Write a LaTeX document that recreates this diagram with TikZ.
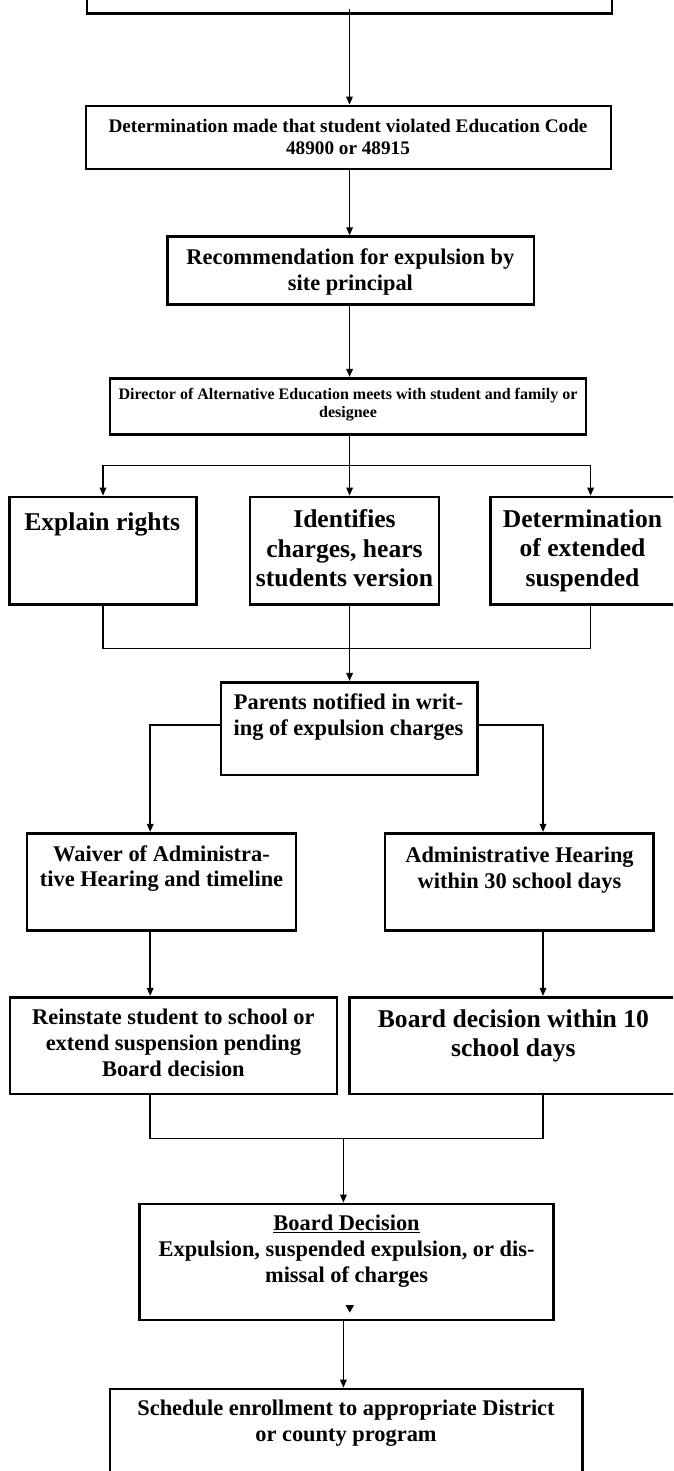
\documentclass[tikz,border=0pt]{standalone}
\usepackage{fontspec}
\setmainfont{Liberation Serif}
\usetikzlibrary{arrows.meta}
\newcommand{\fsS}{\fontsize{16}{18.4}\selectfont}
\newcommand{\fsM}{\fontsize{19.2}{22}\selectfont}
\newcommand{\fsL}{\fontsize{22.4}{25.8}\selectfont}
\newcommand{\fsX}{\fontsize{25.6}{29.4}\selectfont}
\begin{document}
\begin{tikzpicture}
[
x=1pt, y=-1pt,
flowbox/.style 2 args={draw,line width=2.7pt,inner sep=0pt,minimum width=#1,minimum height=#2},
txt/.style={anchor=north,inner sep=0pt,align=center,font=\bfseries#1,execute at begin node=\strut},
link/.style={line width=1.5pt},
flow/.style={link,-{Triangle[width=6.5pt,length=8pt]}},
]
\useasboundingbox (0,0) rectangle (673,1471);
\clip (0,0) rectangle (673,1471);

%Place the boxes
\node[flowbox={525pt}{63.3pt}] (top) at (349.5,-18.35) {};
\node[flowbox={525pt}{63pt}] (violate) at (348.5,137.5) {};
\node[flowbox={366.2pt}{67.6pt}] (recommend) at (350.9,270.5) {};
\node[flowbox={476pt}{56pt}] (director) at (348,406.3) {};
\node[flowbox={187.4pt}{107.5pt}] (explain) at (103,550.75) {};
\node[flowbox={189pt}{107.5pt}] (identify) at (344.5,550.75) {};
\node[flowbox={187.4pt}{107.5pt}] (extended) at (584.3,550.75) {};
\node[flowbox={256.3pt}{92.7pt}] (parents) at (349.15,728.65) {};
\node[flowbox={269pt}{97.4pt}] (waiver) at (161.5,882) {};
\node[flowbox={268.7pt}{97.4pt}] (admin) at (519.35,882) {};
\node[flowbox={327.1pt}{96.7pt}] (reinstate) at (173.45,1045.65) {};
\node[flowbox={327.2pt}{96.7pt}] (within) at (513.4,1045.65) {};
\node[flowbox={414.2pt}{116pt}] (decision) at (346.6,1262) {};
\node[flowbox={472.5pt}{111pt}] (schedule) at (346.15,1444.5) {};

%Place the texts
\node[txt=\fsM] (violate-t) at (348,118.6) {Determination made that student violated Education Code\\48900 or 48915};
\node[txt=\fsL] (recommend-t) at (350.4,248.6) {Recommendation for expulsion by\\site principal};
\node[txt=\fsS] (director-t) at (348,388.1) {Director of Alternative Education meets with student and family or\\designee};
\node[txt=\fsX] (explain-t) at (102.2,509.4) {Explain rights};
\node[txt=\fsX] (identify-t) at (344.5,509.4) {Identifies\\charges, hears\\students version};
\node[txt=\fsX] (extended-t) at (582.5,509.4) {Determination\\of extended\\suspended};
\node[txt=\fsL] (parents-t) at (348.5,693.6) {Parents notified in writ-\\ing of expulsion charges};
\node[txt=\fsL] (waiver-t) at (161.5,845.2) {Waiver of Administra-\\tive Hearing and timeline};
\node[txt=\fsL] (admin-t) at (519.5,846.9) {Administrative Hearing\\within 30 school days};
\node[txt=\fsL] (reinstate-t) at (173.4,1009.2) {Reinstate student to school or\\extend suspension pending\\Board decision};
\node[txt=\fsX] (within-t) at (513.4,1009.4) {Board decision within 10\\school days};
\node[txt=\fsL] (decision-t) at (346.6,1215.2) {\underline{Board Decision}\\Expulsion, suspended expulsion, or dis-\\missal of charges};
\node[txt=\fsL] (schedule-t) at (346,1400.2) {Schedule enrollment to appropriate District\\or county program};

%Connector columns and joins
\coordinate (spine) at (349.6,0);
\coordinate (rcol) at (590.6,0);
\coordinate (wcol) at (150.2,0);
\coordinate (acol) at (543,0);
\coordinate (fork) at (349.6,465.3);
\coordinate (join) at (349.6,648.3);
\coordinate (merge) at (343.4,1138.3);

%Draw the connections
\draw[flow] ([yshift=6pt]top.south) -- (top.south |- violate.north);
\draw[flow] (spine |- violate.south) -- (spine |- recommend.north);
\draw[flow] (spine |- recommend.south) -- (spine |- director.north);
\draw[flow] (spine |- director.south) -- (spine |- identify.north);
\draw[link] (explain |- fork) -- (rcol |- fork);
\draw[flow] (explain |- fork) -- (explain.north);
\draw[flow] (rcol |- fork) -- (rcol |- extended.north);
\draw[link] (explain.south) -- (explain |- join) -- (rcol |- join) -- (rcol |- extended.south);
\draw[link] (spine |- identify.south) -- (spine |- join);
\draw[flow] (spine |- join) -- (spine |- parents.north);
\draw[flow] ([yshift=3.65pt]parents.west) -| (wcol |- waiver.north);
\draw[flow] ([yshift=3.65pt]parents.east) -| (acol |- admin.north);
\draw[flow] (wcol |- waiver.south) -- (wcol |- reinstate.north);
\draw[flow] (acol |- admin.south) -- (acol |- within.north);
\draw[link] (wcol |- reinstate.south) -- (wcol |- merge) -- (acol |- merge) -- (acol |- within.south);
\draw[flow] (merge) -- (merge |- decision.north);
\draw[flow] (merge |- decision.south) -- (merge |- schedule.north);
\fill (345.5,1305) -- (354,1305) -- (349.8,1312.7) -- cycle;
\end{tikzpicture}
\end{document}
